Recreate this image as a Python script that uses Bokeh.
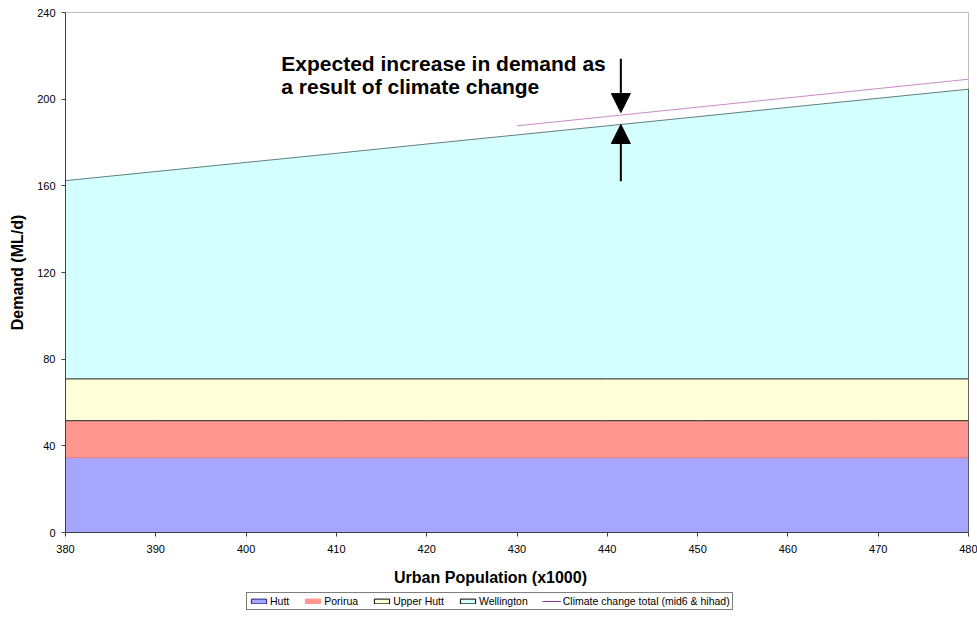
from bokeh.plotting import figure
from bokeh.layouts import column
from bokeh.models import (ColumnDataSource, Legend, LegendItem, Label, Arrow,
                          NormalHead, FixedTicker, Range1d)
from bokeh.embed import file_html
from bokeh.resources import INLINE

# Urban population (thousands) and demand per area (ML/d), stacked
population = [380, 390, 400, 410, 420, 430, 440, 450, 460, 470, 480]
hutt = [34.5, 34.5, 34.5, 34.5, 34.5, 34.5, 34.5, 34.5, 34.5, 34.5, 34.5]
porirua = [17.1, 17.1, 17.1, 17.1, 17.1, 17.1, 17.1, 17.1, 17.1, 17.1, 17.1]
upper_hutt = [19.3, 19.3, 19.3, 19.3, 19.3, 19.3, 19.3, 19.3, 19.3, 19.3, 19.3]
wellington = [91.5, 95.7, 99.9, 104.1, 108.4, 112.6, 116.8, 121.0, 125.3, 129.5, 133.7]

# Total demand including climate change effect
climate_population = [430, 440, 450, 460, 470, 480]
climate_total = [187.7, 192.0, 196.3, 200.6, 204.9, 209.2]

# Arrow marking the climate-change increment
arrow_x = 441.5
arrow_top = [218.7, 193.8]
arrow_bottom = [162.1, 188.3]

x_ticks = [380, 390, 400, 410, 420, 430, 440, 450, 460, 470, 480]
y_ticks = [0, 40, 80, 120, 160, 200, 240]

FONT = "Liberation Sans"

# cumulative levels for the stack
lvl0 = [0.0] * len(population)
lvl1 = [a + b for a, b in zip(lvl0, hutt)]
lvl2 = [a + b for a, b in zip(lvl1, porirua)]
lvl3 = [a + b for a, b in zip(lvl2, upper_hutt)]
lvl4 = [a + b for a, b in zip(lvl3, wellington)]

src = ColumnDataSource(dict(x=population, l0=lvl0, l1=lvl1, l2=lvl2, l3=lvl3, l4=lvl4))
csrc = ColumnDataSource(dict(x=climate_population, y=climate_total))

p = figure(width=977, height=560, output_backend="svg", toolbar_location=None,
           x_range=Range1d(380, 480), y_range=Range1d(0, 240),
           min_border_left=65, min_border_right=9, min_border_top=12,
           min_border_bottom=28)
p.background_fill_color = "white"
p.border_fill_color = "white"
p.outline_line_color = "#c0c0c0"
p.grid.visible = False

colors = {"Hutt": "#A6A6FF", "Porirua": "#FF9690", "Upper Hutt": "#FFFFD8",
          "Wellington": "#D4FFFF"}

p.varea(x="x", y1="l0", y2="l1", source=src, fill_color=colors["Hutt"])
p.varea(x="x", y1="l1", y2="l2", source=src, fill_color=colors["Porirua"])
p.varea(x="x", y1="l2", y2="l3", source=src, fill_color=colors["Upper Hutt"])
p.varea(x="x", y1="l3", y2="l4", source=src, fill_color=colors["Wellington"])

# series boundary lines
p.line(x="x", y="l1", source=src, line_color="#E07878", line_width=1)
p.line(x="x", y="l2", source=src, line_color="#202020", line_width=1)
p.line(x="x", y="l3", source=src, line_color="#202020", line_width=1)
p.line(x="x", y="l4", source=src, line_color="#5F7F7F", line_width=1)
p.line(x=[population[-1], population[-1]], y=[0, lvl4[-1]], line_color="#000000",
       line_width=1)

p.line(x="x", y="y", source=csrc, line_color="#CC88CC", line_width=1)

# annotation
for i, txt in enumerate(["Expected increase in demand as",
                         "a result of climate change"]):
    p.add_layout(Label(x=403.9, y=221.8 - i * 10.8, text=txt, text_font=FONT,
                       text_font_size="21px", text_font_style="bold",
                       text_color="black", text_baseline="top"))

p.add_layout(Arrow(x_start=arrow_x, y_start=arrow_top[0], x_end=arrow_x, y_end=arrow_top[1],
                   line_width=2, line_color="black",
                   end=NormalHead(size=19, fill_color="black", line_color="black")))
p.add_layout(Arrow(x_start=arrow_x, y_start=arrow_bottom[0], x_end=arrow_x, y_end=arrow_bottom[1],
                   line_width=2, line_color="black",
                   end=NormalHead(size=19, fill_color="black", line_color="black")))

# axes
p.xaxis.ticker = FixedTicker(ticks=x_ticks)
p.yaxis.ticker = FixedTicker(ticks=y_ticks)
for ax in (p.xaxis[0], p.yaxis[0]):
    ax.axis_line_color = "#404040"
    ax.major_tick_line_color = "#404040"
    ax.minor_tick_line_color = None
    ax.major_tick_in = 0
    ax.major_tick_out = 4
    ax.major_label_text_font = FONT
    ax.major_label_text_font_size = "11px"
    ax.major_label_text_color = "black"
    ax.axis_label_text_font = FONT
    ax.axis_label_text_font_style = "bold"
    ax.axis_label_text_color = "black"
p.xaxis.major_label_standoff = 8
p.yaxis.axis_label = "Demand (ML/d)"
p.yaxis.axis_label_text_font_size = "16px"
p.yaxis.major_label_standoff = 6
p.yaxis.axis_label_standoff = 8

# footer strip: x-axis title and legend (its frame lines up with the chart frame,
# so the ranges are set to page pixels)
foot = figure(width=977, height=61, output_backend="svg", toolbar_location=None,
              x_range=Range1d(65, 968), y_range=Range1d(0, 61),
              min_border_left=0, min_border_right=0, min_border_top=0,
              min_border_bottom=0)
foot.axis.visible = False
foot.grid.visible = False
foot.outline_line_color = None
foot.background_fill_color = "white"
foot.border_fill_color = "white"

foot.add_layout(Label(x=490, y=44, text="Urban Population (x1000)", text_font=FONT,
                      text_font_size="16px", text_font_style="bold", text_color="black",
                      text_align="center", text_baseline="middle"))

# legend swatches kept off the visible strip
off = dict(left=[-50], right=[-40], top=[-50], bottom=[-40])
r_h = foot.quad(source=ColumnDataSource(off), fill_color=colors["Hutt"], line_color="#202080")
r_p = foot.quad(source=ColumnDataSource(off), fill_color=colors["Porirua"], line_color=colors["Porirua"])
r_u = foot.quad(source=ColumnDataSource(off), fill_color=colors["Upper Hutt"], line_color="black")
r_w = foot.quad(source=ColumnDataSource(off), fill_color=colors["Wellington"], line_color="black")
r_c = foot.line(x=[-50, -40], y=[-50, -50], line_color="#9933AA", line_width=1)

legend = Legend(items=[LegendItem(label="Hutt", renderers=[r_h]),
                       LegendItem(label="Porirua", renderers=[r_p]),
                       LegendItem(label="Upper Hutt", renderers=[r_u]),
                       LegendItem(label="Wellington", renderers=[r_w]),
                       LegendItem(label="Climate change total (mid6 & hihad)", renderers=[r_c])],
                orientation="horizontal", location=(181, 11),
                label_text_font=FONT, label_text_font_size="10.5px",
                label_text_color="black", label_standoff=2,
                glyph_width=19, glyph_height=6, label_height=8, label_width=10,
                spacing=14, padding=2, margin=0,
                border_line_color="black", border_line_width=1,
                background_fill_color="white", background_fill_alpha=1)
foot.add_layout(legend)

layout = column(p, foot, spacing=0)
open("out.html", "w").write(file_html(layout, INLINE))
